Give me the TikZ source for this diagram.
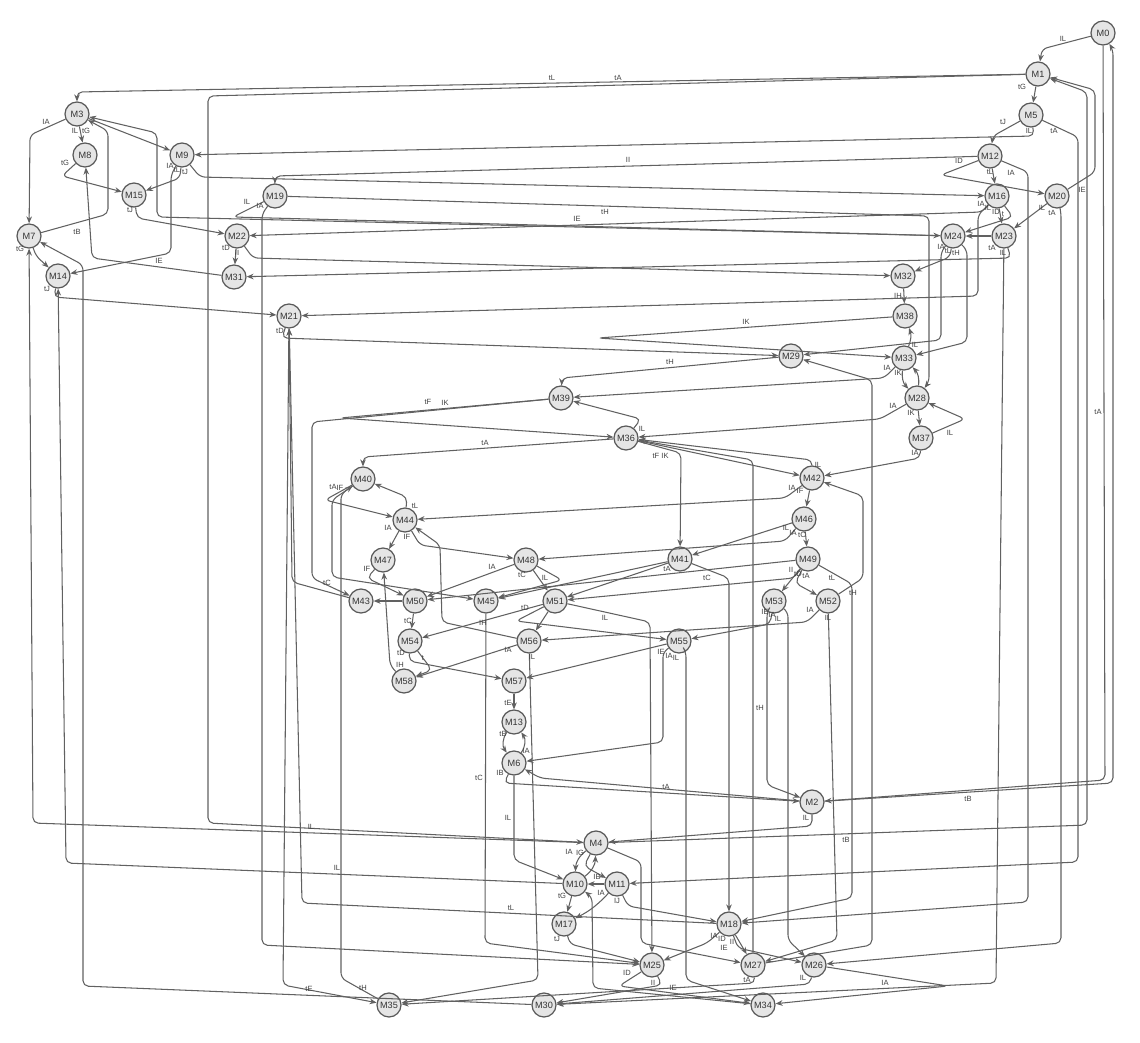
\documentclass[tikz,border=0pt]{standalone}
\usepackage{fontspec}
\setmainfont{Liberation Sans}
\usetikzlibrary{arrows.meta}

\tikzset{
  state/.style={circle, draw=black!65, fill=black!10, line width=0.7pt, minimum size=0.48cm, inner sep=0pt, text=black!80, font=\fontsize{5.2}{6}\selectfont},
  edge/.style={draw=black!62, line width=0.6pt, rounded corners=3pt, -{Stealth[length=4pt, width=3.2pt]}},
  lbl/.style={font=\fontsize{4.3}{5}\selectfont, text=black!75, inner sep=0pt},
}

\begin{document}
\begin{tikzpicture}[x=0.02cm, y=-0.02cm]
    \useasboundingbox (0,0) rectangle (1140,1042);

    % States, right column
    \node[state] (m0)  at (1103,33)  {M0};
    \node[state] (m1)  at (1038,74)  {M1};
    \node[state] (m5)  at (1031,115) {M5};
    \node[state] (m12) at (990,156)  {M12};
    \node[state] (m16) at (997,196)  {M16};
    \node[state] (m20) at (1057,196) {M20};
    \node[state] (m24) at (953,236)  {M24};
    \node[state] (m23) at (1004,236) {M23};
    \node[state] (m32) at (903,276)  {M32};
    \node[state] (m38) at (905,316)  {M38};
    \node[state] (m29) at (791,356)  {M29};
    \node[state] (m33) at (904,358)  {M33};
    \node[state] (m28) at (917,398)  {M28};
    \node[state] (m37) at (921,438)  {M37};

    % States, middle
    \node[state] (m39) at (561,398) {M39};
    \node[state] (m36) at (626,438) {M36};
    \node[state] (m42) at (812,478) {M42};
    \node[state] (m46) at (804,519) {M46};
    \node[state] (m49) at (808,559) {M49};
    \node[state] (m41) at (680,559) {M41};
    \node[state] (m40) at (363,479) {M40};
    \node[state] (m44) at (405,520) {M44};
    \node[state] (m47) at (383,560) {M47};
    \node[state] (m48) at (526,560) {M48};
    \node[state] (m43) at (361,601) {M43};
    \node[state] (m50) at (415,601) {M50};
    \node[state] (m45) at (486,601) {M45};
    \node[state] (m51) at (555,601) {M51};
    \node[state] (m53) at (774,601) {M53};
    \node[state] (m52) at (828,601) {M52};
    \node[state] (m55) at (679,641) {M55};
    \node[state] (m54) at (410,641) {M54};
    \node[state] (m56) at (529,641) {M56};
    \node[state] (m58) at (404,681) {M58};
    \node[state] (m57) at (514,681) {M57};
    \node[state] (m13) at (514,722) {M13};
    \node[state] (m6)  at (514,763) {M6};
    \node[state] (m2)  at (812,802) {M2};

    % States, bottom
    \node[state] (m4)  at (596,843)  {M4};
    \node[state] (m10) at (575,884)  {M10};
    \node[state] (m11) at (617,884)  {M11};
    \node[state] (m17) at (564,924)  {M17};
    \node[state] (m18) at (729,924)  {M18};
    \node[state] (m25) at (652,965)  {M25};
    \node[state] (m27) at (753,965)  {M27};
    \node[state] (m26) at (814,965)  {M26};
    \node[state] (m34) at (763,1005) {M34};
    \node[state] (m35) at (389,1005) {M35};
    \node[state] (m30) at (544,1005) {M30};

    % States, left column
    \node[state] (m3)  at (77,114)  {M3};
    \node[state] (m8)  at (85,155)  {M8};
    \node[state] (m9)  at (182,155) {M9};
    \node[state] (m15) at (134,195) {M15};
    \node[state] (m19) at (275,196) {M19};
    \node[state] (m7)  at (29,236)  {M7};
    \node[state] (m22) at (237,236) {M22};
    \node[state] (m14) at (58,276)  {M14};
    \node[state] (m31) at (234,277) {M31};
    \node[state] (m21) at (289,316) {M21};

    % Transitions out of M0, M1, M5, M12, M20
    \draw[edge] (m0) -- (1042,49) -- (m1);
    \draw[edge] (m1) -- (m5);
    \draw[edge] (m1) -- (77,92) -- (m3);
    \draw[edge] (m1) -- (208,96) -- (208,823) -- (m4);
    \draw[edge] (m5) -- (993,136) -- (m12);
    \draw[edge] (m5) -- (1034,136) -- (m9);
    \draw[edge] (m5) -- (1078,137) -- (1078,862) -- (m11);
    \draw[edge] (m12) -- (m16);
    \draw[edge] (m12) -- (941,175) -- (m20);
    \draw[edge] (m12) -- (1028,172) -- (1028,902) -- (m18);
    \draw[edge] (m12) -- (275,176) -- (m19);
    \draw[edge] (m20) -- (1095,172) -- (1095,90) -- (m1);
    \draw[edge] (m20) -- (m23);
    \draw[edge] (m20) -- (1061,212) -- (1061,943) -- (m26);
    \draw[edge] (m4) -- (1087,825) -- (1087,92) -- (m1);
    \draw[edge] (m0) -- (1105,780) -- (m2);
    \draw[edge] (m2) -- (1113,783) -- (1113,50) -- (m0);

    % Transitions out of M16, M23, M24
    \draw[edge] (m16) -- (1013,217) -- (m24);
    \draw[edge] (m16) -- (m23);
    \draw[edge] (m16) -- (978,215) -- (978,296) -- (m21);
    \draw[edge] (m16) -- (982,212) -- (m22);
    \draw[edge] (m23) -- (m24);
    \draw[edge] (m23) -- (1011,258) -- (m31);
    \draw[edge] (m23) -- (996,983) -- (m30);
    \draw[edge] (m24) -- (157,217) -- (157,133) -- (m3);
    \draw[edge] (m24) -- (950,257) -- (m32);
    \draw[edge] (m24) -- (941,252) -- (941,340) -- (m29);
    \draw[edge] (m24) -- (967,250) -- (967,342) -- (m33);

    % Left cluster
    \draw[edge] (m3) -- (30,135) -- (m7);
    \draw[edge] (m3) -- (m8);
    \draw[edge] (m3) -- (m9);
    \draw[edge] (m8) -- (62,176) -- (m15);
    \draw[edge] (m9) -- (180,178) -- (m15);
    \draw[edge] (m9) -- (171,175) -- (171,253) -- (m14);
    \draw[edge] (m9) -- (200,177) -- (m16);
    \draw[edge] (m15) -- (137,218) -- (m22);
    \draw[edge] (m7) -- (108,214) -- (108,131) -- (m3);
    \draw[edge] (m7) -- (36,256) -- (m14);
    \draw[edge] (m14) -- (54,297) -- (m21);
    \draw[edge] (m22) -- (m31);
    \draw[edge] (m22) -- (253,258) -- (m32);
    \draw[edge] (m31) -- (92,258) -- (m8);
    \draw[edge] (m19) -- (233,217) -- (m24);
    \draw[edge] (m19) -- (929,216) -- (929,382) -- (m28);
    \draw[edge] (m19) -- (262,214) -- (262,945) -- (m25);
    \draw[edge] (m4) -- (33,823) -- (m7);
    \draw[edge] (m10) -- (66,863) -- (m14);
    \draw[edge] (m30) -- (83,986) -- (83,265) -- (m7);

    % M21, M29, M32, M33, M38, M28, M37
    \draw[edge] (m21) -- (282,338) -- (m29);
    \draw[edge] (m21) -- (283,985) -- (m35);
    \draw[edge] (m43) -- (292,582) -- (m21);
    \draw[edge] (m18) -- (302,903) -- (m21);
    \draw[edge] (m32) -- (m38);
    \draw[edge] (m38) -- (598,338) -- (m33);
    \draw[edge] (m33) to[bend right=20] (m38);
    \draw[edge] (m33) to[bend right=25] (m28);
    \draw[edge] (m28) to[bend right=25] (m33);
    \draw[edge] (m33) -- (884,378) -- (m39);
    \draw[edge] (m29) -- (562,378) -- (m39);
    \draw[edge] (m28) -- (880,419) -- (m36);
    \draw[edge] (m28) -- (m37);
    \draw[edge] (m37) -- (965,419) -- (m28);
    \draw[edge] (m37) -- (920,458) -- (m42);
    \draw[edge] (m27) -- (872,945) -- (872,380) -- (m29);

    % M36, M39, M42
    \draw[edge] (m36) -- (641,419) -- (m39);
    \draw[edge] (m39) -- (340,418) -- (m36);
    \draw[edge] (m39) -- (312,422) -- (312,578) -- (m43);
    \draw[edge] (m36) -- (363,457) -- (m40);
    \draw[edge] (m36) -- (m42);
    \draw[edge] (m36) -- (681,453) -- (m41);
    \draw[edge] (m42) -- (812,460) -- (m36);
    \draw[edge] (m27) -- (753,460) -- (m36);
    \draw[edge] (m42) -- (785,498) -- (m44);
    \draw[edge] (m42) -- (m46);
    \draw[edge] (m52) -- (863,578) -- (863,496) -- (m42);

    % M40 to M51
    \draw[edge] (m40) -- (325,500) -- (m44);
    \draw[edge] (m40) -- (332,500) -- (332,577) -- (m45);
    \draw[edge] (m44) -- (407,497) -- (m40);
    \draw[edge] (m35) -- (341,978) -- (341,494) -- (m40);
    \draw[edge] (m44) -- (m47);
    \draw[edge] (m44) -- (420,545) -- (m48);
    \draw[edge] (m47) -- (367,578) -- (m50);
    \draw[edge] (m48) -- (m50);
    \draw[edge] (m48) -- (m51);
    \draw[edge] (m48) -- (562,580) -- (m45);
    \draw[edge] (m50) -- (m43);
    \draw[edge] (m50) -- (m54);
    \draw[edge] (m46) -- (m41);
    \draw[edge] (m46) -- (785,541) -- (m48);
    \draw[edge] (m46) -- (m49);
    \draw[edge] (m49) -- (m50);
    \draw[edge] (m49) -- (794,578) -- (m51);
    \draw[edge] (m49) -- (m53);
    \draw[edge] (m49) -- (795,583) -- (m52);
    \draw[edge] (m49) -- (852,584) -- (852,898) -- (m18);
    \draw[edge] (m41) -- (m45);
    \draw[edge] (m41) -- (m51);
    \draw[edge] (m41) -- (729,578) -- (m18);

    % M51 to M58
    \draw[edge] (m51) -- (m54);
    \draw[edge] (m51) -- (m56);
    \draw[edge] (m51) -- (650,622) -- (m25);
    \draw[edge] (m51) -- (516,621) -- (m55);
    \draw[edge] (m45) -- (485,943) -- (m25);
    \draw[edge] (m52) -- (807,622) -- (m56);
    \draw[edge] (m52) -- (837,940) -- (m27);
    \draw[edge] (m53) -- (770,624) -- (m55);
    \draw[edge] (m53) -- (767,612) -- (767,785) -- (m2);
    \draw[edge] (m53) -- (788,612) -- (788,940) -- (m26);
    \draw[edge] (m54) -- (409,661) -- (m57);
    \draw[edge] (m54) -- (432,670) -- (m58);
    \draw[edge] (m58) -- (390,665) -- (m47);
    \draw[edge] (m56) -- (m58);
    \draw[edge] (m56) -- (442,622) -- (440,545) -- (m44);
    \draw[edge] (m56) -- (538,980) -- (m35);
    \draw[edge] (m55) -- (663,652) -- (663,742) -- (m6);
    \draw[edge] (m55) -- (686,652) -- (686,980) -- (m34);
    \draw[edge] (m55) -- (m57);
    \draw[edge] (m57) -- (m13);

    % M13, M6, M2, M4
    \draw[edge] (m13) to[bend right=35] (m6);
    \draw[edge] (m6) to[bend right=35] (m13);
    \draw[edge] (m6) -- (504,783) -- (m2);
    \draw[edge] (m2) -- (540,778) -- (m6);
    \draw[edge] (m6) -- (514,860) -- (m10);
    \draw[edge] (m2) -- (812,826) -- (m4);
    \draw[edge] (m4) to[bend right=25] (m10);
    \draw[edge] (m10) to[bend right=25] (m4);
    \draw[edge] (m4) -- (584,866) -- (m11);
    \draw[edge] (m11) -- (m10);
    \draw[edge] (m4) -- (641,862) -- (641,943) -- (m27);

    % Bottom rows
    \draw[edge] (m10) -- (m17);
    \draw[edge] (m11) to[bend left=10] (m17);
    \draw[edge] (m11) -- (628,906) -- (m18);
    \draw[edge] (m17) -- (570,944) -- (m25);
    \draw[edge] (m18) -- (707,943) -- (m25);
    \draw[edge] (m18) -- (m27);
    \draw[edge] (m18) -- (738,948) -- (m26);
    \draw[edge] (m25) -- (619,986) -- (m34);
    \draw[edge] (m25) -- (662,985) -- (m30);
    \draw[edge] (m26) -- (948,986) -- (m34);
    \draw[edge] (m26) -- (810,984) -- (m30);
    \draw[edge] (m27) -- (755,983) -- (m35);
    \draw[edge] (m34) -- (593,988) -- (592,897) -- (m10);

    % Transition labels, top right
    \node[lbl] (lb1)  at (1063,39)  {IL};
    \node[lbl] (lb2)  at (1022,87)  {tG};
    \node[lbl] (lb3)  at (552,78)   {tL};
    \node[lbl] (lb4)  at (618,78)   {tA};
    \node[lbl] (lb5)  at (1003,122) {tJ};
    \node[lbl] (lb6)  at (1029,131) {IL};
    \node[lbl] (lb7)  at (1054,131) {tA};
    \node[lbl] (lb8)  at (959,161)  {ID};
    \node[lbl] (lb9)  at (990,172)  {tL};
    \node[lbl] (lb10) at (1011,173) {IA};
    \node[lbl] (lb11) at (628,160)  {II};
    \node[lbl] (lb12) at (1082,190) {IE};
    \node[lbl] (lb13) at (1042,208) {IL};
    \node[lbl] (lb14) at (1052,213) {tA};
    \node[lbl] (lb15) at (981,204)  {IA};
    \node[lbl] (lb16) at (988,208)  {IL};
    \node[lbl] (lb17) at (996,212)  {ID};
    \node[lbl] (lb18) at (1003,214) {t};
    \node[lbl] (lb19) at (605,212)  {tH};
    \node[lbl] (lb20) at (577,219)  {IE};
    \node[lbl] (lb21) at (941,247)  {IA};
    \node[lbl] (lb22) at (948,251)  {tL};
    \node[lbl] (lb23) at (956,253)  {tH};
    \node[lbl] (lb24) at (992,248)  {tA};
    \node[lbl] (lb25) at (1003,253) {IL};
    \node[lbl] (lb26) at (898,296)  {IH};
    \node[lbl] (lb27) at (746,322)  {IK};
    \node[lbl] (lb28) at (915,345)  {IL};
    \node[lbl] (lb29) at (670,362)  {tH};
    \node[lbl] (lb30) at (887,368)  {IA};
    \node[lbl] (lb31) at (898,373)  {IK};
    \node[lbl] (lb32) at (893,406)  {IA};
    \node[lbl] (lb33) at (911,413)  {IK};
    \node[lbl] (lb34) at (950,433)  {IL};
    \node[lbl] (lb35) at (915,453)  {IA};
    \node[lbl] (lb36) at (1098,412) {tA};
    \node[lbl] (lb37) at (968,799)  {tB};
    \node[lbl] (lb38) at (846,840)  {tB};

    % Transition labels, left
    \node[lbl] (lb39) at (46,122)  {IA};
    \node[lbl] (lb40) at (75,131)  {IL};
    \node[lbl] (lb41) at (86,131)  {tG};
    \node[lbl] (lb42) at (65,163)  {tG};
    \node[lbl] (lb43) at (170,166) {IA};
    \node[lbl] (lb44) at (177,170) {tL};
    \node[lbl] (lb45) at (185,172) {tJ};
    \node[lbl] (lb46) at (130,210) {tJ};
    \node[lbl] (lb47) at (77,232)  {tB};
    \node[lbl] (lb48) at (20,249)  {tG};
    \node[lbl] (lb49) at (47,289)  {tJ};
    \node[lbl] (lb50) at (159,261) {IE};
    \node[lbl] (lb51) at (247,202) {IL};
    \node[lbl] (lb52) at (260,206) {IA};
    \node[lbl] (lb53) at (226,248) {tD};
    \node[lbl] (lb54) at (237,253) {II};
    \node[lbl] (lb55) at (280,331) {tD};
    \node[lbl] (lb56) at (311,827) {IL};
    \node[lbl] (lb57) at (337,868) {IL};
    \node[lbl] (lb58) at (309,989) {tE};
    \node[lbl] (lb59) at (363,988) {tH};

    % Transition labels, middle
    \node[lbl] (lb60) at (642,429) {IL};
    \node[lbl] (lb61) at (428,402) {tF};
    \node[lbl] (lb62) at (445,403) {IK};
    \node[lbl] (lb63) at (485,443) {tA};
    \node[lbl] (lb64) at (818,465) {IL};
    \node[lbl] (lb65) at (656,456) {tF};
    \node[lbl] (lb66) at (665,456) {IK};
    \node[lbl] (lb67) at (792,488) {IA};
    \node[lbl] (lb68) at (800,491) {IF};
    \node[lbl] (lb69) at (415,506) {tL};
    \node[lbl] (lb70) at (333,487) {tA};
    \node[lbl] (lb71) at (340,488) {IF};
    \node[lbl] (lb72) at (786,528) {IL};
    \node[lbl] (lb73) at (793,533) {IA};
    \node[lbl] (lb74) at (802,535) {tC};
    \node[lbl] (lb75) at (388,528) {IA};
    \node[lbl] (lb76) at (407,537) {IF};
    \node[lbl] (lb77) at (791,570) {II};
    \node[lbl] (lb78) at (798,574) {tD};
    \node[lbl] (lb79) at (806,576) {tA};
    \node[lbl] (lb80) at (832,578) {tL};
    \node[lbl] (lb81) at (853,593) {tH};
    \node[lbl] (lb82) at (667,569) {tA};
    \node[lbl] (lb83) at (707,578) {tC};
    \node[lbl] (lb84) at (367,569) {IF};
    \node[lbl] (lb85) at (492,567) {IA};
    \node[lbl] (lb86) at (522,575) {tC};
    \node[lbl] (lb87) at (545,578) {IL};
    \node[lbl] (lb88) at (327,583) {tC};
    \node[lbl] (lb89) at (525,608) {tD};
    \node[lbl] (lb90) at (605,618) {IL};
    \node[lbl] (lb91) at (483,623) {IH};
    \node[lbl] (lb92) at (408,621) {tC};
    \node[lbl] (lb93) at (810,610) {IA};
    \node[lbl] (lb94) at (828,618) {IL};
    \node[lbl] (lb95) at (765,612) {IE};
    \node[lbl] (lb96) at (772,615) {IA};
    \node[lbl] (lb97) at (778,619) {IL};
    \node[lbl] (lb98) at (661,652) {IE};
    \node[lbl] (lb99) at (669,656) {IA};
    \node[lbl] (lb100) at (676,658) {IL};
    \node[lbl] (lb101) at (401,653) {tD};
    \node[lbl] (lb102) at (423,658) {t};
    \node[lbl] (lb103) at (508,650) {IA};
    \node[lbl] (lb104) at (532,657) {IL};
    \node[lbl] (lb105) at (400,665) {IH};
    \node[lbl] (lb106) at (508,703) {tE};
    \node[lbl] (lb107) at (503,734) {tB};
    \node[lbl] (lb108) at (526,751) {IA};
    \node[lbl] (lb109) at (760,708) {tH};
    \node[lbl] (lb110) at (479,778) {tC};
    \node[lbl] (lb111) at (500,773) {IB};
    \node[lbl] (lb112) at (666,787) {tA};

    % Transition labels, bottom
    \node[lbl] (lb113) at (508,818) {IL};
    \node[lbl] (lb114) at (806,818) {IL};
    \node[lbl] (lb115) at (569,852) {IA};
    \node[lbl] (lb116) at (580,853) {IG};
    \node[lbl] (lb117) at (597,877) {IB};
    \node[lbl] (lb118) at (562,896) {tG};
    \node[lbl] (lb119) at (601,893) {IA};
    \node[lbl] (lb120) at (617,901) {IJ};
    \node[lbl] (lb121) at (511,908) {tL};
    \node[lbl] (lb122) at (557,939) {tJ};
    \node[lbl] (lb123) at (714,936) {IA};
    \node[lbl] (lb124) at (722,939) {ID};
    \node[lbl] (lb125) at (732,942) {II};
    \node[lbl] (lb126) at (724,948) {IE};
    \node[lbl] (lb127) at (627,973) {ID};
    \node[lbl] (lb128) at (653,983) {II};
    \node[lbl] (lb129) at (673,988) {IE};
    \node[lbl] (lb130) at (747,980) {tA};
    \node[lbl] (lb131) at (803,978) {IL};
    \node[lbl] (lb132) at (885,983) {IA};
\end{tikzpicture}
\end{document}
